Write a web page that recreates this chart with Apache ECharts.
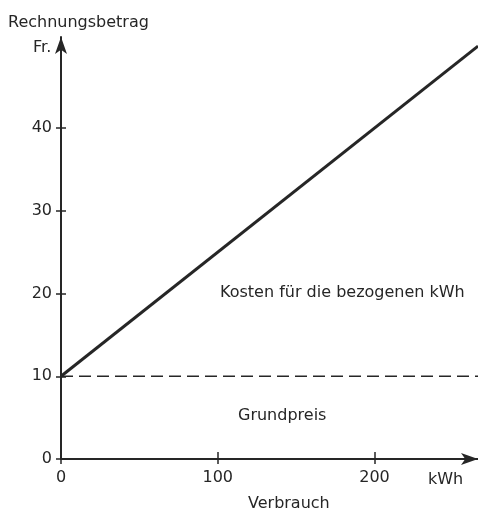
<!DOCTYPE html>
<html>
<head>
<meta charset="utf-8">
<script src="https://cdn.jsdelivr.net/npm/echarts@6/dist/echarts.min.js"></script>
<style>
  html, body { margin: 0; padding: 0; background: #fff; }
  #chart { width: 478px; height: 512px; }
</style>
</head>
<body>
<div id="chart"></div>
<script>
// Werte
var kostenLinie = [[0, 10], [266, 49.9]];
var grundpreisLinie = [[0, 10], [266, 10]];
var xTicks = [0, 100, 200];
var yTicks = [0, 10, 20, 30, 40];

var ink = '#262626';
var font = 'DejaVu Sans';

var chart = echarts.init(document.getElementById('chart'));

var xBase = {
    type: 'value',
    min: 0,
    max: 266,
    gridIndex: 0,
    position: 'bottom',
    splitLine: { show: false }
};
var yBase = {
    type: 'value',
    min: 0,
    max: 51,
    gridIndex: 0,
    position: 'left',
    splitLine: { show: false }
};

var option = {
    animation: false,
    backgroundColor: '#fff',
    grid: { left: 61, right: 0, top: 37, bottom: 53 },
    xAxis: [
        Object.assign({}, xBase, {
            axisLine: { show: true, lineStyle: { color: ink, width: 2 },
                symbol: ['none', 'arrow'], symbolSize: [9, 17], symbolOffset: [0, 0] },
            axisTick: { show: true, inside: false, length: 5, customValues: xTicks,
                lineStyle: { color: ink, width: 1.5 } },
            axisLabel: { show: true, customValues: xTicks, margin: 11,
                color: ink, fontFamily: font, fontSize: 16 }
        }),
        Object.assign({}, xBase, {
            axisLine: { show: false },
            axisTick: { show: true, inside: true, length: 7, customValues: [100, 200],
                lineStyle: { color: ink, width: 1.5 } },
            axisLabel: { show: false }
        })
    ],
    yAxis: [
        Object.assign({}, yBase, {
            axisLine: { show: true, lineStyle: { color: ink, width: 2 },
                symbol: ['none', 'arrow'], symbolSize: [9, 17], symbolOffset: [0, 0] },
            axisTick: { show: true, inside: false, length: 5, customValues: yTicks,
                lineStyle: { color: ink, width: 1.5 } },
            axisLabel: { show: true, customValues: yTicks, margin: 9,
                color: ink, fontFamily: font, fontSize: 16 }
        }),
        Object.assign({}, yBase, {
            axisLine: { show: false },
            axisTick: { show: true, inside: true, length: 5, customValues: yTicks,
                lineStyle: { color: ink, width: 1.5 } },
            axisLabel: { show: false }
        })
    ],
    series: [
        {
            name: 'Grundpreis',
            type: 'line',
            data: grundpreisLinie,
            symbol: 'none',
            lineStyle: { color: ink, width: 1.5, type: [12, 6] },
            z: 2
        },
        {
            name: 'Kosten',
            type: 'line',
            data: kostenLinie,
            symbol: 'none',
            lineStyle: { color: ink, width: 3 },
            z: 3
        }
    ],
    graphic: [
        { type: 'text', left: 8, top: 15,
          style: { text: 'Rechnungsbetrag', fill: ink, font: '16px ' + font } },
        { type: 'text', left: 33, top: 40,
          style: { text: 'Fr.', fill: ink, font: '16px ' + font } },
        { type: 'text', left: 428, top: 472,
          style: { text: 'kWh', fill: ink, font: '16px ' + font } },
        { type: 'text', left: 248, top: 496,
          style: { text: 'Verbrauch', fill: ink, font: '16px ' + font } },
        { type: 'text', left: 238, top: 408,
          style: { text: 'Grundpreis', fill: ink, font: '16px ' + font } },
        { type: 'text', left: 220, top: 285,
          style: { text: 'Kosten für die bezogenen kWh', fill: ink, font: '16px ' + font } }
    ]
};

chart.setOption(option);
</script>
</body>
</html>
